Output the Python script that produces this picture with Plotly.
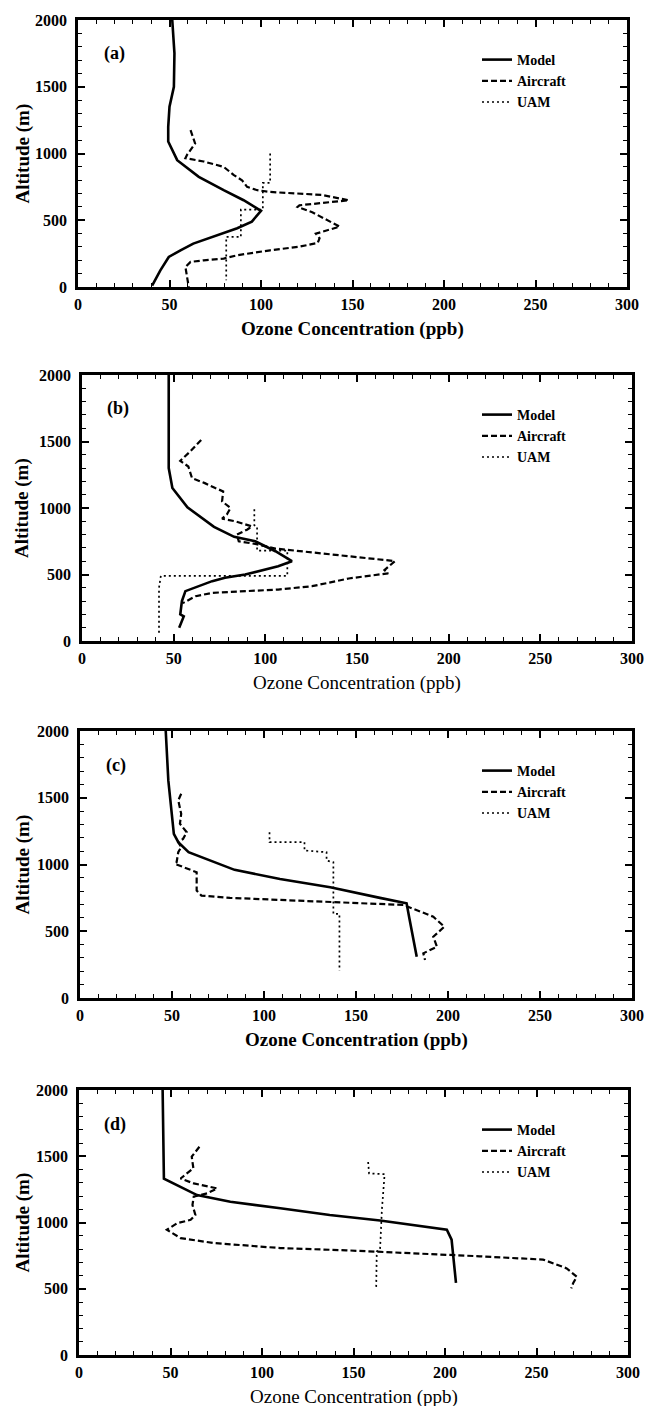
import plotly.graph_objects as go
from plotly.subplots import make_subplots

W, H = 646, 1406

# ---- panel (a) ----
model_a_ppb = [51.5, 52.7, 52.4, 50, 49.3, 49.3, 54.2, 66, 79.6, 90.5, 100, 95, 87, 76, 63, 56, 49.6, 45, 40.5]
model_a_alt = [2000, 1750, 1500, 1350, 1200, 1090, 950, 825, 725, 650, 570, 490, 440, 390, 325, 275, 225, 125, 10]
air_a_ppb = [61.5, 64, 59.6, 58.7, 68.7, 79.6, 85, 89.6, 92.4, 98, 105, 120, 133, 148, 121, 120, 128, 143,
             130, 132, 131, 121, 105, 87, 79.6, 68.7, 61.5, 58.7, 59.6, 60.5]
air_a_alt = [1175, 1075, 990, 965, 940, 900, 840, 800, 750, 725, 712, 700, 690, 650, 612, 600, 560, 452,
             400, 365, 330, 302, 275, 238, 213, 200, 188, 150, 75, 0]
uam_a_ppb = [105, 105, 101, 101, 89, 89, 81, 81]
uam_a_alt = [1000, 780, 780, 580, 580, 375, 375, 50]

# ---- panel (b) ----
model_b_ppb = [47.3, 47.3, 49.3, 57.5, 72, 83, 94.5, 105.5, 114.5, 107, 89, 78, 71, 56.4, 54.5, 53.6, 55.5, 53]
model_b_alt = [2000, 1300, 1150, 1005, 858, 783, 750, 675, 600, 562, 500, 475, 450, 375, 300, 200, 185, 100]
air_b_ppb = [65, 59, 53.6, 58, 60, 67, 72.7, 77, 76.4, 81, 79, 76.4, 83.6, 92.7, 90, 84.5, 85.5, 94.5, 105.5,
             116.4, 145.5, 170.7, 165, 167, 145.5, 125.5, 107, 89, 71, 62, 56.4, 55]
air_b_alt = [1512, 1425, 1355, 1312, 1225, 1187, 1150, 1125, 1050, 1000, 950, 920, 900, 862, 837, 800, 750, 730,
             695, 680, 637, 601, 533, 509, 470, 412, 387, 375, 362, 337, 300, 285]
uam_b_ppb = [94, 94, 95.5, 95.5, 112, 112, 43, 42, 42]
uam_b_alt = [990, 870, 860, 680, 680, 490, 490, 400, 60]

# ---- panel (c) ----
model_c_ppb = [46.6, 48, 51, 53.4, 59, 84, 108.7, 136, 163, 177.5, 179, 183]
model_c_alt = [2000, 1630, 1230, 1167, 1092, 960, 892, 830, 750, 709, 597, 309]
air_c_ppb = [55, 53.4, 55, 54.3, 58, 56, 53.4, 55, 53.4, 52.5, 51.6, 56, 63.4, 63.4, 66, 81.5, 108.7, 136, 163,
             175.7, 192, 198, 192, 194, 186.6, 187.5]
air_c_alt = [1530, 1480, 1380, 1305, 1242, 1192, 1167, 1130, 1092, 1017, 1005, 980, 942, 805, 767, 750, 735, 717,
             700, 697, 609, 534, 459, 384, 335, 285]
uam_c_ppb = [103, 103, 122, 122, 134, 134, 137.7, 137.7, 141, 141]
uam_c_alt = [1242, 1167, 1167, 1105, 1092, 1030, 1017, 630, 630, 205]

# ---- panel (d) ----
model_d_ppb = [45.7, 46, 46.4, 64.5, 82.7, 110, 137, 164.5, 182.7, 201, 203.6, 206]
model_d_alt = [2000, 1673, 1330, 1207, 1157, 1107, 1057, 1015, 982, 945, 870, 545]
air_d_ppb = [65.8, 61.6, 62.5, 55.5, 62.7, 75.5, 70, 62.7, 62, 63.6, 61, 53.6, 48, 55.5, 73.6, 110, 146, 182.7,
             219, 253.6, 266.5, 272, 270, 269]
air_d_alt = [1572, 1497, 1409, 1332, 1295, 1257, 1220, 1195, 1132, 1057, 1020, 995, 945, 882, 845, 807, 790, 770,
             745, 720, 654, 591, 541, 503]
uam_d_ppb = [158, 158.5, 167, 166, 165.5, 164.5, 162.7, 162.4]
uam_d_alt = [1457, 1370, 1365, 1220, 1095, 795, 782, 507]

panels = [
    ("(a)", model_a_ppb, model_a_alt, air_a_ppb, air_a_alt, uam_a_ppb, uam_a_alt),
    ("(b)", model_b_ppb, model_b_alt, air_b_ppb, air_b_alt, uam_b_ppb, uam_b_alt),
    ("(c)", model_c_ppb, model_c_alt, air_c_ppb, air_c_alt, uam_c_ppb, uam_c_alt),
    ("(d)", model_d_ppb, model_d_alt, air_d_ppb, air_d_alt, uam_d_ppb, uam_d_alt),
]

# pixel boxes of each plot area: left, right, top, bottom
boxes = [(78, 627, 20, 287), (82, 632, 375, 641), (80, 632, 731, 998), (79, 628, 1090, 1355)]
title_bold = [True, False, True, False]

SERIF = "Liberation Serif"
fig = make_subplots(rows=4, cols=1)

for i, (lab, mx, my, ax_, ay, ux, uy) in enumerate(panels):
    r = i + 1
    leg = "legend" if i == 0 else "legend%d" % r
    fig.add_trace(go.Scatter(x=mx, y=my, mode="lines", name="Model", legend=leg,
                             line=dict(color="black", width=2.6)), row=r, col=1)
    fig.add_trace(go.Scatter(x=ax_, y=ay, mode="lines", name="Aircraft", legend=leg,
                             line=dict(color="black", width=2.2, dash="6px,3px")), row=r, col=1)
    fig.add_trace(go.Scatter(x=ux, y=uy, mode="lines", name="UAM", legend=leg,
                             line=dict(color="black", width=1.7, dash="2px,3px")), row=r, col=1)

    l, rr, t, b = boxes[i]
    xd = [l / W, rr / W]
    yd = [1 - b / H, 1 - t / H]
    axis_common = dict(showline=True, linewidth=2.8, linecolor="black", mirror="allticks",
                       ticks="inside", ticklen=7, tickwidth=1.6, tickcolor="black",
                       showgrid=False, zeroline=False, automargin=False,
                       tickfont=dict(family=SERIF, size=16, color="black", weight="bold"))
    fig.update_xaxes(domain=xd, range=[0, 300], dtick=50, ticklabelstandoff=1,
                     minor=dict(dtick=10, ticks="inside", ticklen=4, tickwidth=1.3, tickcolor="black"),
                     row=r, col=1, **axis_common)
    fig.update_yaxes(domain=yd, range=[0, 2000], dtick=500, ticklabelstandoff=5,
                     minor=dict(dtick=100, ticks="inside", ticklen=4, tickwidth=1.3, tickcolor="black"),
                     row=r, col=1, **axis_common)

    # legend inside upper right
    fig.update_layout({leg: dict(x=477 / W, y=1 - (t + 24) / H, xanchor="left", yanchor="top",
                                 bgcolor="rgba(0,0,0,0)", borderwidth=0, tracegroupgap=0,
                                 font=dict(family=SERIF, size=14, color="black", weight="bold"))})

    # panel label
    fig.add_annotation(text=lab, xref="paper", yref="paper", x=(l + 36) / W, y=1 - (t + 34) / H,
                       xanchor="center", yanchor="middle", showarrow=False,
                       font=dict(family=SERIF, size=18, color="black", weight="bold"))
    # axis titles
    fig.add_annotation(text="Ozone Concentration (ppb)", xref="paper", yref="paper",
                       x=(l + rr) / 2 / W, y=1 - (b + 42) / H, xanchor="center", yanchor="middle",
                       showarrow=False,
                       font=dict(family=SERIF, size=19, color="black",
                                 weight="bold" if title_bold[i] else "normal"))
    fig.add_annotation(text="Altitude (m)", xref="paper", yref="paper", textangle=-90,
                       x=22 / W, y=1 - (t + b) / 2 / H, xanchor="center", yanchor="middle",
                       showarrow=False,
                       font=dict(family=SERIF, size=19, color="black", weight="bold"))

fig.update_layout(width=W, height=H, margin=dict(l=0, r=0, t=0, b=0),
                  plot_bgcolor="white", paper_bgcolor="white", showlegend=True)

fig.write_html("out.html", config={"displayModeBar": False},
               post_script="document.body.style.margin='0px';")
